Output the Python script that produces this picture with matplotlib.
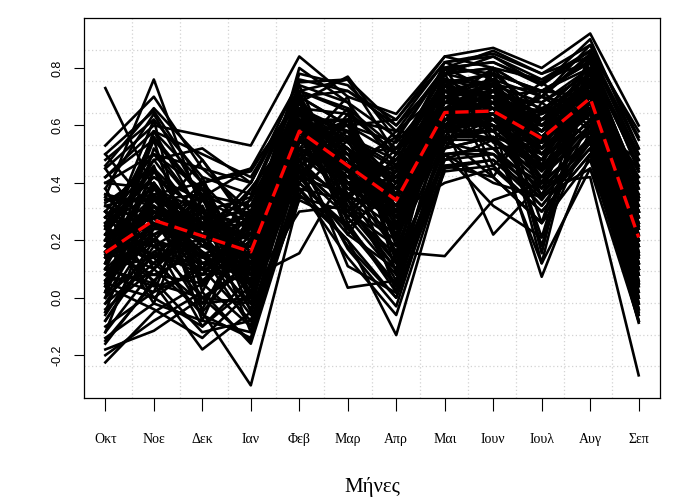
import numpy as np
import matplotlib
matplotlib.use('Agg')
import matplotlib.pyplot as plt
from matplotlib import font_manager

months = ['Οκτ', 'Νοε', 'Δεκ', 'Ιαν', 'Φεβ', 'Μαρ', 'Απρ', 'Μαι', 'Ιουν', 'Ιουλ', 'Αυγ', 'Σεπ']

# outlying / extreme series
s01 = [0.73, 0.38, 0.30, 0.20, 0.62, 0.50, 0.40, 0.70, 0.72, 0.60, 0.75, 0.30]
s02 = [0.35, 0.76, 0.30, 0.25, 0.65, 0.55, 0.45, 0.75, 0.78, 0.65, 0.80, 0.40]
s03 = [0.53, 0.70, 0.45, 0.30, 0.70, 0.60, 0.50, 0.78, 0.80, 0.70, 0.85, 0.50]
s04 = [0.50, 0.65, 0.40, 0.45, 0.75, 0.76, 0.60, 0.82, 0.85, 0.78, 0.88, 0.55]
s05 = [0.45, 0.60, 0.565, 0.53, 0.84, 0.70, 0.64, 0.84, 0.87, 0.80, 0.92, 0.60]
s06 = [0.42, 0.55, 0.35, 0.45, 0.68, 0.77, 0.55, 0.80, 0.82, 0.75, 0.86, 0.52]
s07 = [0.30, 0.50, 0.45, 0.40, 0.72, 0.65, 0.50, 0.76, 0.74, 0.72, 0.82, 0.45]
s08 = [0.33, 0.45, 0.20, 0.38, 0.60, 0.62, 0.58, 0.72, 0.70, 0.68, 0.78, 0.38]
s09 = [0.25, 0.42, 0.30, 0.10, 0.58, 0.55, 0.42, 0.70, 0.76, 0.62, 0.74, 0.35]
s10 = [0.28, 0.38, 0.25, 0.15, 0.55, 0.50, 0.35, 0.68, 0.70, 0.58, 0.72, 0.30]
s11 = [-0.225, -0.05, 0.05, -0.10, 0.45, 0.30, 0.10, 0.55, 0.55, 0.45, 0.60, 0.05]
s12 = [-0.18, -0.115, 0.00, -0.15, 0.40, 0.25, 0.05, 0.50, 0.50, 0.40, 0.55, -0.05]
s13 = [-0.15, 0.05, -0.18, -0.05, 0.38, 0.20, -0.13, 0.45, 0.48, 0.35, 0.52, -0.087]
s14 = [-0.12, 0.10, -0.05, -0.305, 0.35, 0.30, 0.15, 0.48, 0.55, 0.42, 0.60, 0.00]
s15 = [0.05, 0.00, -0.10, 0.07, 0.155, 0.45, 0.30, 0.40, 0.45, 0.30, 0.50, 0.10]
s16 = [0.10, 0.05, 0.00, -0.02, 0.45, 0.035, 0.06, 0.50, 0.40, 0.35, 0.45, 0.05]
s17 = [0.20, 0.15, 0.10, 0.05, 0.50, 0.40, 0.16, 0.145, 0.34, 0.40, 0.55, 0.15]
s18 = [0.20, 0.15, 0.10, 0.05, 0.50, 0.40, 0.25, 0.60, 0.22, 0.40, 0.55, 0.15]
s19 = [0.15, 0.25, 0.20, 0.10, 0.45, 0.35, 0.30, 0.55, 0.60, 0.073, 0.50, 0.10]
s20 = [0.20, 0.30, 0.25, 0.15, 0.55, 0.45, 0.35, 0.58, 0.55, 0.40, 0.42, -0.27]

# bulk of the series
s21 = [0.12, 0.30, 0.22, 0.18, 0.60, 0.48, 0.30, 0.65, 0.68, 0.55, 0.70, 0.20]
s22 = [0.20, 0.35, 0.15, 0.22, 0.65, 0.40, 0.38, 0.70, 0.62, 0.60, 0.74, 0.25]
s23 = [0.05, 0.22, 0.28, 0.10, 0.55, 0.52, 0.25, 0.62, 0.66, 0.50, 0.68, 0.12]
s24 = [0.30, 0.18, 0.10, 0.25, 0.62, 0.45, 0.45, 0.68, 0.72, 0.58, 0.76, 0.28]
s25 = [0.00, 0.28, 0.35, 0.05, 0.50, 0.58, 0.20, 0.60, 0.60, 0.48, 0.65, 0.08]
s26 = [0.18, 0.40, 0.18, 0.28, 0.68, 0.38, 0.42, 0.74, 0.70, 0.62, 0.72, 0.32]
s27 = [0.25, 0.12, 0.30, 0.12, 0.58, 0.60, 0.28, 0.64, 0.75, 0.52, 0.78, 0.22]
s28 = [0.08, 0.32, 0.05, 0.20, 0.52, 0.42, 0.35, 0.58, 0.64, 0.58, 0.66, 0.18]
s29 = [0.15, 0.20, 0.38, -0.02, 0.48, 0.50, 0.22, 0.66, 0.58, 0.45, 0.70, 0.05]
s30 = [0.32, 0.36, 0.22, 0.30, 0.70, 0.35, 0.48, 0.72, 0.68, 0.65, 0.80, 0.35]
s31 = [-0.05, 0.15, 0.12, 0.08, 0.45, 0.30, 0.18, 0.55, 0.62, 0.45, 0.62, 0.00]
s32 = [0.22, 0.45, 0.28, 0.16, 0.62, 0.55, 0.40, 0.70, 0.74, 0.60, 0.76, 0.28]
s33 = [0.10, 0.26, 0.08, 0.24, 0.56, 0.44, 0.30, 0.62, 0.60, 0.56, 0.68, 0.15]
s34 = [0.35, 0.22, 0.32, 0.00, 0.64, 0.48, 0.36, 0.66, 0.70, 0.50, 0.72, 0.25]
s35 = [0.02, 0.38, 0.18, 0.14, 0.50, 0.62, 0.26, 0.60, 0.66, 0.52, 0.64, 0.10]
s36 = [0.18, 0.10, 0.25, 0.32, 0.66, 0.40, 0.44, 0.76, 0.72, 0.66, 0.74, 0.30]
s37 = [0.26, 0.28, 0.00, 0.10, 0.54, 0.52, 0.32, 0.64, 0.62, 0.48, 0.70, 0.20]
s38 = [-0.08, 0.18, 0.20, 0.02, 0.42, 0.36, 0.12, 0.52, 0.56, 0.42, 0.58, -0.02]
s39 = [0.14, 0.34, 0.26, 0.20, 0.60, 0.46, 0.38, 0.68, 0.64, 0.58, 0.72, 0.22]
s40 = [0.28, 0.42, 0.34, 0.26, 0.66, 0.56, 0.46, 0.72, 0.76, 0.62, 0.78, 0.34]
s41 = [0.06, 0.08, 0.16, -0.06, 0.48, 0.32, 0.20, 0.58, 0.58, 0.46, 0.62, 0.06]
s42 = [0.16, 0.30, 0.10, 0.12, 0.58, 0.42, 0.28, 0.62, 0.68, 0.52, 0.66, 0.18]
s43 = [0.22, 0.24, 0.22, 0.18, 0.62, 0.50, 0.34, 0.66, 0.62, 0.56, 0.70, 0.24]
s44 = [0.40, 0.50, 0.30, 0.35, 0.72, 0.66, 0.52, 0.78, 0.80, 0.70, 0.84, 0.44]
s45 = [-0.02, 0.12, -0.02, 0.00, 0.44, 0.28, 0.08, 0.50, 0.52, 0.38, 0.56, -0.04]
s46 = [0.12, 0.36, 0.40, 0.22, 0.60, 0.58, 0.40, 0.68, 0.66, 0.54, 0.74, 0.26]
s47 = [0.30, 0.14, 0.18, 0.08, 0.56, 0.44, 0.26, 0.60, 0.70, 0.50, 0.68, 0.16]
s48 = [0.04, 0.26, 0.12, 0.16, 0.52, 0.38, 0.30, 0.64, 0.60, 0.52, 0.66, 0.12]
s49 = [0.18, 0.48, 0.26, 0.20, 0.64, 0.52, 0.36, 0.70, 0.72, 0.58, 0.76, 0.30]
s50 = [0.24, 0.20, 0.36, 0.28, 0.62, 0.46, 0.42, 0.66, 0.68, 0.60, 0.72, 0.26]
s51 = [0.10, 0.04, 0.08, 0.10, 0.46, 0.34, 0.22, 0.56, 0.58, 0.44, 0.60, 0.08]
s52 = [0.36, 0.32, 0.14, 0.18, 0.60, 0.54, 0.38, 0.70, 0.66, 0.56, 0.72, 0.28]
s53 = [-0.10, 0.02, 0.10, -0.08, 0.40, 0.24, 0.04, 0.48, 0.50, 0.36, 0.54, -0.06]
s54 = [0.20, 0.28, 0.24, 0.14, 0.58, 0.48, 0.32, 0.64, 0.66, 0.54, 0.70, 0.22]
s55 = [0.14, 0.40, 0.20, 0.24, 0.54, 0.60, 0.30, 0.62, 0.64, 0.58, 0.68, 0.18]
s56 = [0.08, 0.22, 0.30, 0.04, 0.60, 0.40, 0.34, 0.66, 0.60, 0.50, 0.70, 0.14]
s57 = [0.26, 0.36, 0.06, 0.20, 0.68, 0.50, 0.44, 0.72, 0.70, 0.64, 0.74, 0.30]
s58 = [0.00, 0.16, 0.24, 0.12, 0.50, 0.36, 0.24, 0.58, 0.62, 0.48, 0.64, 0.10]
s59 = [0.32, 0.26, 0.20, 0.30, 0.64, 0.58, 0.40, 0.70, 0.74, 0.62, 0.78, 0.32]
s60 = [0.16, 0.32, 0.16, 0.08, 0.56, 0.44, 0.28, 0.62, 0.64, 0.52, 0.68, 0.20]
s61 = [-0.14, -0.02, -0.08, -0.12, 0.36, 0.20, 0.00, 0.46, 0.48, 0.32, 0.52, -0.08]
s62 = [0.48, 0.62, 0.42, 0.36, 0.74, 0.68, 0.56, 0.80, 0.82, 0.74, 0.86, 0.48]
s63 = [0.02, 0.58, 0.50, 0.42, 0.70, 0.72, 0.60, 0.78, 0.84, 0.76, 0.82, 0.46]
s64 = [0.22, 0.56, 0.36, 0.32, 0.66, 0.64, 0.50, 0.74, 0.78, 0.72, 0.80, 0.40]
s65 = [0.30, 0.05, 0.35, -0.05, 0.62, 0.28, 0.50, 0.58, 0.74, 0.26, 0.80, 0.02]
s66 = [-0.05, 0.40, -0.08, 0.30, 0.48, 0.66, 0.12, 0.76, 0.42, 0.68, 0.55, 0.40]
s67 = [0.38, 0.10, 0.28, 0.02, 0.70, 0.30, 0.55, 0.52, 0.80, 0.155, 0.84, -0.02]
s68 = [0.02, 0.45, 0.05, 0.28, 0.40, 0.62, 0.18, 0.80, 0.55, 0.72, 0.58, 0.35]
s69 = [0.25, -0.02, 0.40, 0.10, 0.66, 0.22, 0.44, 0.62, 0.70, 0.21, 0.76, 0.18]
s70 = [0.12, 0.55, 0.02, 0.35, 0.52, 0.70, 0.08, 0.72, 0.62, 0.75, 0.62, 0.42]
s71 = [0.45, 0.20, 0.15, -0.10, 0.58, 0.42, 0.58, 0.56, 0.78, 0.35, 0.86, 0.12]
s72 = [-0.12, 0.30, 0.25, 0.22, 0.36, 0.55, 0.22, 0.70, 0.58, 0.66, 0.64, 0.30]
s73 = [0.20, 0.62, -0.05, 0.15, 0.72, 0.26, 0.36, 0.78, 0.46, 0.62, 0.70, 0.24]
s74 = [0.08, 0.02, 0.42, 0.05, 0.50, 0.48, 0.02, 0.66, 0.76, 0.12, 0.80, 0.08]
s75 = [0.34, 0.40, 0.10, 0.38, 0.60, 0.34, 0.52, 0.60, 0.64, 0.70, 0.60, 0.48]
s76 = [-0.02, 0.24, 0.32, -0.12, 0.46, 0.58, 0.28, 0.72, 0.60, 0.44, 0.74, 0.04]
s77 = [0.16, 0.08, 0.05, 0.26, 0.68, 0.40, 0.46, 0.54, 0.72, 0.56, 0.66, 0.26]
s78 = [0.28, 0.50, 0.38, 0.12, 0.54, 0.62, 0.14, 0.74, 0.54, 0.48, 0.78, 0.14]
s79 = [0.04, 0.36, -0.02, 0.20, 0.62, 0.24, 0.40, 0.62, 0.70, 0.60, 0.64, 0.36]
s80 = [0.22, 0.12, 0.26, 0.00, 0.44, 0.52, 0.30, 0.68, 0.66, 0.40, 0.72, 0.10]
s81 = [0.36, 0.28, 0.48, 0.24, 0.64, 0.38, 0.34, 0.76, 0.68, 0.58, 0.82, 0.38]
s82 = [-0.08, 0.16, 0.08, 0.30, 0.56, 0.46, 0.56, 0.58, 0.62, 0.66, 0.62, 0.20]
s83 = [0.10, 0.44, 0.22, 0.04, 0.70, 0.32, 0.10, 0.70, 0.74, 0.18, 0.76, 0.00]
s84 = [0.26, 0.00, 0.12, 0.18, 0.52, 0.56, 0.38, 0.64, 0.52, 0.54, 0.68, 0.28]
s85 = [0.14, 0.34, 0.36, 0.08, 0.60, 0.44, 0.24, 0.80, 0.72, 0.64, 0.70, 0.44]
s86 = [0.30, 0.22, -0.04, 0.28, 0.74, 0.36, 0.48, 0.60, 0.78, 0.46, 0.84, 0.16]
s87 = [0.00, 0.52, 0.30, 0.14, 0.42, 0.64, 0.20, 0.74, 0.58, 0.70, 0.66, 0.32]
s88 = [0.18, 0.06, 0.20, -0.04, 0.58, 0.28, 0.42, 0.52, 0.68, 0.38, 0.72, 0.06]
s89 = [0.40, 0.38, 0.26, 0.34, 0.66, 0.58, 0.30, 0.78, 0.74, 0.68, 0.80, 0.46]
s90 = [0.06, 0.20, 0.14, 0.10, 0.50, 0.40, 0.32, 0.56, 0.56, 0.50, 0.58, 0.12]
s91 = [0.24, 0.46, 0.04, 0.22, 0.64, 0.50, 0.52, 0.68, 0.80, 0.60, 0.76, 0.36]
s92 = [-0.04, 0.10, 0.34, 0.16, 0.38, 0.34, 0.06, 0.62, 0.64, 0.42, 0.68, -0.04]
s93 = [0.32, 0.26, 0.16, -0.02, 0.62, 0.62, 0.36, 0.66, 0.60, 0.52, 0.74, 0.24]
s94 = [0.12, 0.58, 0.28, 0.30, 0.56, 0.30, 0.44, 0.72, 0.70, 0.72, 0.70, 0.40]
s95 = [0.20, 0.18, 0.00, 0.12, 0.70, 0.46, 0.22, 0.58, 0.66, 0.46, 0.80, 0.10]
s96 = [0.02, 0.32, 0.24, 0.26, 0.46, 0.56, 0.48, 0.76, 0.62, 0.62, 0.64, 0.30]
s97 = [0.28, 0.14, 0.30, 0.06, 0.60, 0.38, 0.28, 0.64, 0.76, 0.40, 0.72, 0.20]
s98 = [0.16, 0.40, 0.12, 0.18, 0.66, 0.52, 0.40, 0.70, 0.58, 0.64, 0.78, 0.34]
s99 = [0.08, 0.24, 0.40, 0.00, 0.52, 0.44, 0.16, 0.62, 0.72, 0.50, 0.66, 0.08]
s100 = [0.34, 0.34, 0.18, 0.28, 0.58, 0.60, 0.54, 0.74, 0.66, 0.56, 0.74, 0.42]
s101 = [0.50, 0.30, 0.22, 0.40, 0.76, 0.72, 0.62, 0.82, 0.76, 0.70, 0.88, 0.56]
s102 = [0.46, 0.66, 0.48, 0.26, 0.78, 0.74, 0.58, 0.80, 0.86, 0.78, 0.84, 0.50]
s103 = [-0.16, 0.06, -0.12, -0.08, 0.34, 0.26, 0.02, 0.44, 0.46, 0.30, 0.50, -0.08]
s104 = [-0.20, -0.08, 0.02, -0.16, 0.38, 0.14, -0.06, 0.46, 0.42, 0.26, 0.48, -0.06]
s105 = [0.42, 0.58, 0.40, 0.44, 0.70, 0.60, 0.62, 0.84, 0.80, 0.76, 0.86, 0.58]
s106 = [0.04, -0.04, -0.14, 0.02, 0.44, 0.18, 0.00, 0.50, 0.52, 0.34, 0.56, 0.02]
s107 = [0.38, 0.64, 0.34, 0.20, 0.80, 0.68, 0.46, 0.82, 0.84, 0.74, 0.90, 0.52]
s108 = [-0.06, 0.20, -0.10, 0.04, 0.30, 0.32, 0.12, 0.52, 0.56, 0.36, 0.60, -0.02]
s109 = [0.26, 0.48, 0.52, 0.40, 0.72, 0.76, 0.50, 0.80, 0.78, 0.72, 0.82, 0.48]
s110 = [0.10, 0.14, -0.06, -0.14, 0.42, 0.22, 0.10, 0.54, 0.50, 0.32, 0.54, -0.04]
s111 = [0.18, 0.26, 0.14, 0.10, 0.52, 0.11, 0.017, 0.56, 0.42, 0.26, 0.62, 0.12]
s112 = [0.06, 0.34, 0.20, 0.06, 0.48, 0.17, -0.03, 0.50, 0.32, 0.21, 0.58, 0.04]
s113 = [0.24, 0.18, 0.28, 0.20, 0.56, 0.40, 0.30, 0.60, 0.55, 0.12, 0.45, -0.08]

# average curve (red dashed)
mean_line = [0.157, 0.27, 0.215, 0.16, 0.58, 0.46, 0.34, 0.645, 0.65, 0.555, 0.695, 0.21]

all_series = [s01, s02, s03, s04, s05, s06, s07, s08, s09, s10, s11, s12, s13, s14, s15, s16,
              s17, s18, s19, s20, s21, s22, s23, s24, s25, s26, s27, s28, s29, s30, s31, s32,
              s33, s34, s35, s36, s37, s38, s39, s40, s41, s42, s43, s44, s45, s46, s47, s48,
              s49, s50, s51, s52, s53, s54, s55, s56, s57, s58, s59, s60, s61, s62, s63, s64,
              s65, s66, s67, s68, s69, s70, s71, s72, s73, s74, s75, s76, s77, s78, s79, s80,
              s81, s82, s83, s84, s85, s86, s87, s88, s89, s90, s91, s92, s93, s94, s95, s96,
              s97, s98, s99, s100, s101, s102, s103, s104, s105, s106, s107, s108, s109, s110,
              s111, s112, s113]

def pick_font(names):
	for name in names:
		try:
			font_manager.findfont(font_manager.FontProperties(family=name), fallback_to_default=False)
			return name
		except Exception:
			pass
	return 'DejaVu Serif'

serif_font = pick_font(['DejaVu Serif Condensed', 'Liberation Serif'])

fig = plt.figure(figsize=(6.76, 5.04), dpi=100)
ax = fig.add_axes([84/676, 1-398/504, 576/676, 380/504])

x = np.arange(1, 13)
for series in all_series:
	ax.plot(x, series, color='black', lw=1.9, zorder=2)
ax.plot(x, mean_line, color='red', lw=2.4, ls=(0, (4, 2)), zorder=3)

ax.set_xlim(0.56, 12.44)
ax.set_ylim(-0.349, 0.974)

# R style grid(12, 12): equal divisions of the plot region
for gx in np.linspace(0.56, 12.44, 13)[1:-1]:
	ax.axvline(gx, color='lightgray', lw=0.9, ls=(0, (1, 2)), zorder=1)
for gy in np.linspace(-0.349, 0.974, 13)[1:-1]:
	ax.axhline(gy, color='lightgray', lw=0.9, ls=(0, (1, 2)), zorder=1)

ax.set_xticks(x)
ax.set_xticklabels(months, fontsize=10, family=serif_font)
ax.set_yticks([-0.2, 0.0, 0.2, 0.4, 0.6, 0.8])
ax.set_yticklabels(['-0.2', '0.0', '0.2', '0.4', '0.6', '0.8'], rotation=90, va='center',
                   fontsize=9, family='Liberation Sans')
ax.tick_params(axis='x', length=9, width=0.8, pad=16)
ax.tick_params(axis='y', length=7, width=0.8, pad=8)
for sp in ax.spines.values():
	sp.set_linewidth(0.9)

fig.text(372/676, 1-487/504, 'Μήνες', ha='center', va='center', fontsize=15, family=serif_font)

fig.savefig('out.png', dpi=100)
